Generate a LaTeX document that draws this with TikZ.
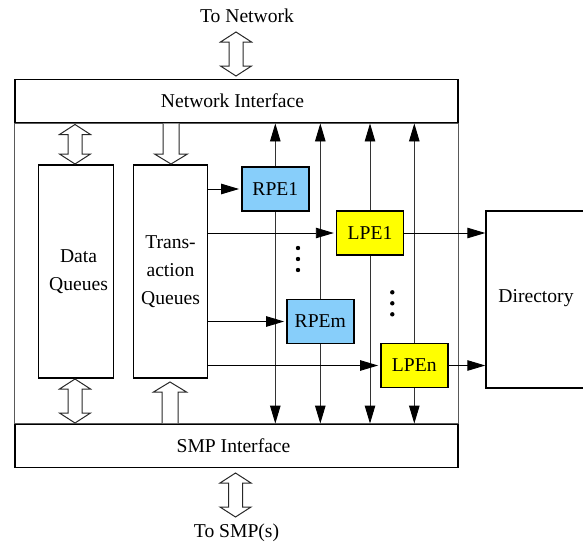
\documentclass[tikz,border=0pt]{standalone}
\usepackage{fontspec}
\setmainfont{Liberation Serif}
\usetikzlibrary{arrows.meta}
\definecolor{rpeblue}{RGB}{135,206,250}
\definecolor{lpeyellow}{RGB}{255,255,0}
\definecolor{hollowgray}{RGB}{40,40,40}
\pgfdeclarelayer{background}
\pgfsetlayers{background,main}
\newcommand\hdbl[3]{\draw[hollow] (#1,#2) -- ++(15.5,10) -- ++(-8.5,0) -- ({#1+7},{#3-10}) -- ++(8.5,0) -- (#1,#3) -- ++(-15.5,-10) -- ++(8.5,0) -- ({#1-7},{#2+10}) -- ++(-8.5,0) -- cycle;}
\newcommand\hdown[3]{\draw[hollow] ({#1-8},#2) -- ({#1-8},{#3-10}) -- ({#1-16.5},{#3-10}) -- (#1,#3) -- ({#1+16.5},{#3-10}) -- ({#1+8},{#3-10}) -- ({#1+8},#2);}
\newcommand\hup[3]{\draw[hollow] ({#1-8},#2) -- ({#1-8},{#3+10}) -- ({#1-16.5},{#3+10}) -- (#1,#3) -- ({#1+16.5},{#3+10}) -- ({#1+8},{#3+10}) -- ({#1+8},#2);}
\begin{document}
\begin{tikzpicture}[x=1pt,y=-1pt,
  every node/.style={font=\fontsize{19.6}{28}\selectfont, inner sep=0pt},
  thickbox/.style={draw, line width=1.4pt, fill=white},
  iface/.style={thickbox, minimum width=443pt, minimum height=43.5pt},
  queue/.style={thickbox, minimum width=74.5pt, minimum height=213pt, align=center},
  pe/.style={draw, line width=1.4pt, minimum width=67pt, minimum height=44pt},
  rpe/.style={pe, fill=rpeblue},
  lpe/.style={pe, fill=lpeyellow},
  hollow/.style={draw=hollowgray, line width=1pt, fill=white},
  vconn/.style={line width=0.9pt, draw=black!80, {Triangle[length=18pt,width=10.5pt,color=black]}-{Triangle[length=18pt,width=10.5pt,color=black]}},
  hconn/.style={line width=0.9pt, draw=black, -{Triangle[length=18pt,width=10.5pt]}, shorten >=2pt},
  dot/.style={fill=black}]
\useasboundingbox (0,0) rectangle (583,546);
\clip (0,0) rectangle (583,546);

\node[anchor=base] (tonet) at (247,22) {To Network};
\node[anchor=base] (tosmp) at (236.5,537) {To SMP(s)};

\node[iface] (ni) at (236.5,101) {\hspace*{-8pt}Network Interface};
\node[iface] (smp) at (236.5,446) {\hspace*{-6pt}SMP Interface};

\node[queue] (dq) at (76,271.5) {\raisebox{2pt}{\hspace*{5pt}Data}\\\raisebox{2pt}{\hspace*{5pt}Queues}};
\node[queue] (tq) at (170.5,271.5) {\raisebox{-3pt}{Trans-}\\\raisebox{-3pt}{action}\\\raisebox{-3pt}{Queues}};

\node[rpe] (rpe1) at (275.3,189) {RPE1};
\node[lpe] (lpe1) at (370,233) {LPE1};
\node[rpe] (rpem) at (320.3,321.5) {RPEm};
\node[lpe] (lpen) at (414.3,365.5) {LPEn};

\node[thickbox, minimum width=100pt, minimum height=177pt, text depth=0pt] (dir) at (536,299.5) {\raisebox{7pt}{Directory}};

\begin{pgfonlayer}{background}
  \draw[line width=0.8pt, draw=black!65] (ni.south west) rectangle (smp.north east);
  \draw[vconn] (rpe1 |- ni.south) -- (rpe1 |- smp.north);
  \draw[vconn] (rpem |- ni.south) -- (rpem |- smp.north);
  \draw[vconn] (lpe1 |- ni.south) -- (lpe1 |- smp.north);
  \draw[vconn] (lpen |- ni.south) -- (lpen |- smp.north);
\end{pgfonlayer}

\draw[hconn] (tq.east |- rpe1) -- (rpe1.west);
\draw[hconn] (tq.east |- lpe1) -- (lpe1.west);
\draw[hconn] (tq.east |- rpem) -- (rpem.west);
\draw[hconn] (tq.east |- lpen) -- (lpen.west);
\draw[hconn, shorten >=0pt] (lpe1.east) -- (lpe1 -| dir.west);
\draw[hconn, shorten >=0pt] (lpen.east) -- (lpen -| dir.west);

\hdbl{236}{32}{76}
\hdbl{75}{124.5}{164}
\hdbl{75}{379}{423}
\hdbl{235.5}{473}{517}
\hdown{171}{123.5}{164}
\hup{170}{423}{382}

\fill[dot] (298,248) circle (2.2);
\fill[dot] (298,259) circle (2.2);
\fill[dot] (298,270) circle (2.2);
\fill[dot] (392.3,292.3) circle (2.2);
\fill[dot] (392.3,303.3) circle (2.2);
\fill[dot] (392.3,314.3) circle (2.2);
\end{tikzpicture}
\end{document}
